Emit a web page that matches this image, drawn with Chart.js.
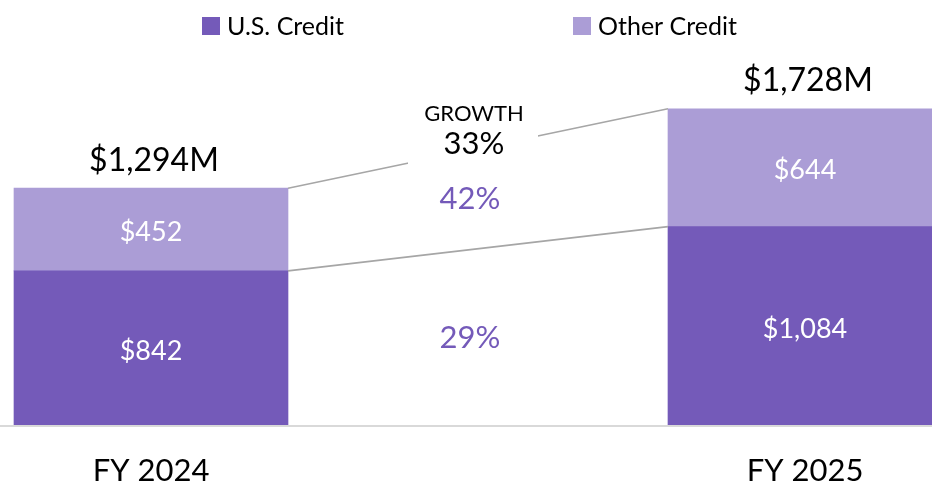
<!DOCTYPE html>
<html>
<head>
<meta charset="utf-8">
<script src="https://cdn.jsdelivr.net/npm/chart.js@4.4.1/dist/chart.umd.min.js"></script>
<style>
html, body { margin: 0; padding: 0; background: #fff; }
#wrap { width: 932px; height: 489px; position: relative; }
</style>
</head>
<body>
<div id="wrap"><canvas id="chart"></canvas></div>
<script>
// data
var categories = ['FY 2024', 'FY 2025'];
var seriesNames = ['U.S. Credit', 'Other Credit'];
var usCredit = [842, 1084];
var otherCredit = [452, 644];
var growthTitle = 'GROWTH';
var growthTotal = '33%';
var growthOther = '42%';
var growthUs = '29%';

// styles
var colorUs = '#745ab9';
var colorOther = '#ab9dd6';
var colorLine = '#a6a6a6';
var colorAxis = '#d9d9d9';
var fontFamily = 'Lato, "Open Sans", sans-serif';

// format money
function money(v) {
    return '$' + String(v).replace(/\B(?=(\d{3})+(?!\d))/g, ',');
}

// line helper
function line(ctx, x1, y1, x2, y2, color, width) {
    ctx.beginPath();
    ctx.moveTo(x1, y1);
    ctx.lineTo(x2, y2);
    ctx.strokeStyle = color;
    ctx.lineWidth = width;
    ctx.stroke();
}

// overlay: labels, connectors, growth, legend
var overlay = {
    id: 'overlay',
    afterDatasetsDraw: function(chart) {
        var ctx = chart.ctx;
        var us = chart.getDatasetMeta(0).data;
        var other = chart.getDatasetMeta(1).data;
        var half = us[0].width / 2;

        ctx.save();

        // baseline
        var y0 = chart.scales.y.getPixelForValue(0);
        line(ctx, 0, y0 + 1, chart.width, y0 + 1, colorAxis, 2);

        // connectors
        line(ctx, other[0].x + half, other[0].y, other[1].x - half, other[1].y, colorLine, 1.6);
        line(ctx, us[0].x + half, us[0].y, us[1].x - half, us[1].y, colorLine, 1.6);

        ctx.textAlign = 'center';
        ctx.textBaseline = 'middle';

        // segment values
        ctx.fillStyle = '#fff';
        ctx.font = '27px ' + fontFamily;
        for (var i = 0; i < categories.length; i++) {
            ctx.fillText(money(usCredit[i]), us[i].x, (us[i].y + us[i].base) / 2 + 3);
            ctx.fillText(money(otherCredit[i]), other[i].x, (other[i].y + other[i].base) / 2 + 3);
        }

        // totals
        ctx.fillStyle = '#000';
        ctx.font = '32px ' + fontFamily;
        for (var j = 0; j < categories.length; j++) {
            ctx.fillText(money(usCredit[j] + otherCredit[j]) + 'M', other[j].x + 3, other[j].y - 28);
        }

        // growth block
        var mx = (us[0].x + us[1].x) / 2 - 8;
        var my = (other[0].y + other[1].y) / 2;
        ctx.fillStyle = '#fff';
        ctx.fillRect(mx - 62, my - 52, 130, 70);
        ctx.fillStyle = '#000';
        ctx.font = '22px ' + fontFamily;
        ctx.fillText(growthTitle, mx + 4, my - 35);
        ctx.font = '31px ' + fontFamily;
        ctx.fillText(growthTotal, mx + 4, my - 4);

        ctx.fillStyle = colorUs;
        var oy = ((other[0].y + other[0].base) / 2 + (other[1].y + other[1].base) / 2) / 2;
        var uy = ((us[0].y + us[0].base) / 2 + (us[1].y + us[1].base) / 2) / 2;
        ctx.fillText(growthOther, mx, oy);
        ctx.fillText(growthUs, mx, uy + 1);

        // legend
        var colors = [colorUs, colorOther];
        var lx = [202, 573];
        ctx.textAlign = 'left';
        ctx.font = '25px ' + fontFamily;
        for (var k = 0; k < seriesNames.length; k++) {
            ctx.fillStyle = colors[k];
            ctx.fillRect(lx[k], 17, 18, 18);
            ctx.fillStyle = '#000';
            ctx.fillText(seriesNames[k], lx[k] + 25, 27);
        }

        ctx.restore();
    }
};

// create chart
new Chart(document.getElementById('chart'), {
    type: 'bar',
    data: {
        labels: categories,
        datasets: [
            { label: seriesNames[0], data: usCredit, backgroundColor: colorUs, barThickness: 274, clip: false },
            { label: seriesNames[1], data: otherCredit, backgroundColor: colorOther, barThickness: 274, clip: false }
        ]
    },
    options: {
        responsive: true,
        maintainAspectRatio: false,
        animation: false,
        layout: { padding: { left: 151, right: 127, top: 59, bottom: 0 } },
        plugins: {
            legend: { display: false },
            tooltip: { enabled: false }
        },
        scales: {
            x: {
                stacked: true,
                offset: false,
                grid: { display: false, drawTicks: false },
                border: { display: false },
                afterFit: function(scale) { scale.height = 64; },
                ticks: {
                    color: '#000',
                    font: { family: fontFamily, size: 31 },
                    padding: 27,
                    maxRotation: 0,
                    autoSkip: false
                }
            },
            y: { stacked: true, display: false, min: 0, max: 2000 }
        }
    },
    plugins: [overlay]
});
</script>
</body>
</html>
